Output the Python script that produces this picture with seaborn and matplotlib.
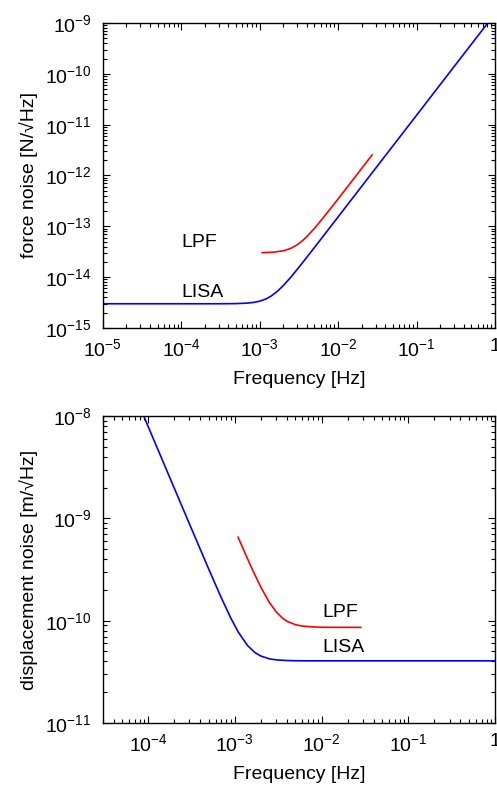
import numpy as np
import pandas as pd
import seaborn as sns
import matplotlib
matplotlib.use("Agg")
import matplotlib.pyplot as plt
from matplotlib.ticker import LogLocator, FuncFormatter, NullFormatter

# force noise [N/sqrt(Hz)]
lisa_force_freq = [1e-5, 1e-4, 3e-4, 5e-4, 7e-4, 8.5e-4, 1e-3, 1.2e-3, 1.4e-3, 1.7e-3,
                   2e-3, 2.5e-3, 3e-3, 4e-3, 5e-3, 7e-3, 1e-2, 3e-2, 1e-1, 3e-1, 1.0]
lisa_force = [3.00e-15, 3.00e-15, 3.00e-15, 3.02e-15, 3.09e-15, 3.20e-15, 3.37e-15,
              3.72e-15, 4.24e-15, 5.34e-15, 6.82e-15, 1.00e-14, 1.41e-14, 2.47e-14,
              3.84e-14, 7.51e-14, 1.53e-13, 1.38e-12, 1.53e-11, 1.38e-10, 1.53e-9]
lpf_force_freq = [1.07e-3, 1.5e-3, 2e-3, 2.5e-3, 3e-3, 3.5e-3, 4e-3, 5e-3, 6e-3, 8e-3,
                  1e-2, 1.5e-2, 2e-2, 2.72e-2]
lpf_force = [3.03e-14, 3.10e-14, 3.30e-14, 3.69e-14, 4.32e-14, 5.18e-14, 6.28e-14,
             9.13e-14, 1.28e-13, 2.23e-13, 3.46e-13, 7.76e-13, 1.38e-12, 2.55e-12]

# displacement noise [m/sqrt(Hz)]
lisa_disp_freq = [8.5e-5, 1e-4, 2e-4, 3e-4, 5e-4, 7e-4, 9e-4, 1.1e-3, 1.4e-3, 1.7e-3,
                  2e-3, 2.5e-3, 3e-3, 4e-3, 5e-3, 7e-3, 1e-2, 1e-1, 1.0]
lisa_disp = [1.10e-8, 7.94e-9, 1.985e-9, 8.83e-10, 3.20e-10, 1.67e-10, 1.06e-10,
             7.71e-11, 5.73e-11, 4.89e-11, 4.51e-11, 4.24e-11, 4.14e-11, 4.08e-11,
             4.06e-11, 4.05e-11, 4.05e-11, 4.05e-11, 4.05e-11]
lpf_disp_freq = [1.09e-3, 1.3e-3, 1.6e-3, 2e-3, 2.5e-3, 3e-3, 3.5e-3, 4e-3, 5e-3, 6e-3,
                 8e-3, 1e-2, 1.5e-2, 2.85e-2]
lpf_disp = [6.57e-10, 4.66e-10, 3.14e-10, 2.12e-10, 1.51e-10, 1.22e-10, 1.07e-10,
            9.87e-11, 9.14e-11, 8.86e-11, 8.69e-11, 8.63e-11, 8.61e-11, 8.60e-11]

sns.set_theme(style="ticks")
plt.rcParams['font.family'] = ['Liberation Sans', 'DejaVu Sans']
plt.rcParams['mathtext.fontset'] = 'custom'
plt.rcParams['mathtext.rm'] = 'Liberation Sans'
plt.rcParams['mathtext.it'] = 'Liberation Sans:italic'
plt.rcParams['mathtext.default'] = 'regular'
for k in ('text.color', 'axes.labelcolor', 'xtick.color', 'ytick.color', 'axes.edgecolor'):
    plt.rcParams[k] = 'black'

FS = 14


def pow_label(v, pos):
    e = int(round(np.log10(v)))
    if e == 0:
        return "1"
    return r"$10^{%d}$" % e


def style_axis(ax):
    ax.set_xscale('log')
    ax.set_yscale('log')
    for a in (ax.xaxis, ax.yaxis):
        a.set_major_locator(LogLocator(base=10, numticks=20))
        a.set_minor_locator(LogLocator(base=10, subs=np.arange(2, 10), numticks=20))
        a.set_major_formatter(FuncFormatter(pow_label))
        a.set_minor_formatter(NullFormatter())
    ax.tick_params(which='both', direction='in', top=True, right=True,
                   color='black', width=0.8)
    ax.tick_params(which='major', length=5, labelsize=FS)
    ax.tick_params(which='minor', length=3)
    ax.tick_params(axis='x', which='major', pad=7)
    ax.tick_params(axis='y', which='major', pad=8)
    for s in ax.spines.values():
        s.set_linewidth(1.0)
        s.set_color('black')


fig = plt.figure(figsize=(4.97, 7.90), dpi=100)
ax1 = fig.add_axes([0.2066, 0.5848, 0.7894, 0.3861])
ax2 = fig.add_axes([0.2066, 0.0848, 0.7894, 0.3886])

top_lisa = pd.DataFrame({'f': lisa_force_freq, 'v': lisa_force})
top_lpf = pd.DataFrame({'f': lpf_force_freq, 'v': lpf_force})
sns.lineplot(data=top_lisa, x='f', y='v', ax=ax1, color='#0000ff', lw=1.2, estimator=None)
sns.lineplot(data=top_lpf, x='f', y='v', ax=ax1, color='#ff0000', lw=1.2, estimator=None)
style_axis(ax1)
ax1.set_xlim(1e-5, 1)
ax1.set_ylim(1e-15, 1e-9)
ax1.set_xlabel('Frequency [Hz]', fontsize=FS, labelpad=8)
ax1.set_ylabel('force noise [N/\u221aHz]', fontsize=FS, labelpad=5)
ax1.text(1.02e-4, 4.9e-14, 'LPF', fontsize=FS, va='center', ha='left')
ax1.text(1.02e-4, 4.9e-15, 'LISA', fontsize=FS, va='center', ha='left')

bot_lisa = pd.DataFrame({'f': lisa_disp_freq, 'v': lisa_disp})
bot_lpf = pd.DataFrame({'f': lpf_disp_freq, 'v': lpf_disp})
sns.lineplot(data=bot_lisa, x='f', y='v', ax=ax2, color='#0000ff', lw=1.2, estimator=None)
sns.lineplot(data=bot_lpf, x='f', y='v', ax=ax2, color='#ff0000', lw=1.2, estimator=None)
style_axis(ax2)
ax2.set_xlim(3e-5, 1)
ax2.set_ylim(1e-11, 1e-8)
ax2.set_xlabel('Frequency [Hz]', fontsize=FS, labelpad=8)
ax2.set_ylabel('displacement noise [m/\u221aHz]', fontsize=FS, labelpad=5)
ax2.text(1.02e-2, 1.2e-10, 'LPF', fontsize=FS, va='center', ha='left')
ax2.text(1.02e-2, 5.45e-11, 'LISA', fontsize=FS, va='center', ha='left')

fig.savefig('out.png', dpi=100)
plt.close(fig)
